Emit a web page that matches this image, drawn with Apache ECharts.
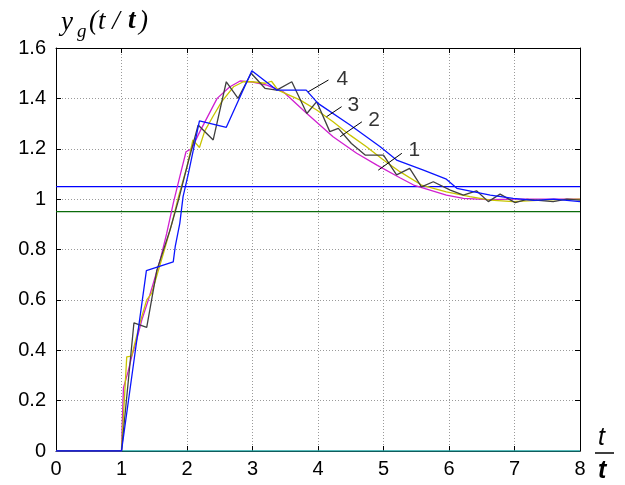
<!DOCTYPE html>
<html>
<head>
<meta charset="UTF-8">
<script src="https://cdn.jsdelivr.net/npm/echarts@6/dist/echarts.min.js"></script>
<style>
  html, body { margin: 0; padding: 0; background: #fff; }
  #chart { width: 625px; height: 485px; }
</style>
</head>
<body>
<div id="chart"></div>
<script>
// curve 1 (magenta, continuous)
const t1 = [0, 1, 1.01, 1.03, 1.10, 1.155, 1.23, 1.31, 1.41, 1.59, 1.69, 1.79, 1.89, 1.985, 2.07, 2.2, 2.46, 2.65, 2.81, 3.0, 3.22, 3.47, 3.83, 4.23, 4.59, 4.9, 5.25, 5.46, 5.96, 6.22, 6.6, 7, 8];
const y1 = [0, 0, 0.10, 0.25, 0.315, 0.374, 0.44, 0.52, 0.60, 0.758, 0.864, 0.983, 1.089, 1.188, 1.20, 1.27, 1.40, 1.445, 1.469, 1.465, 1.453, 1.426, 1.34, 1.248, 1.182, 1.135, 1.085, 1.056, 1.016, 1.003, 0.998, 1.0, 1.0];
// curve 2 (yellow)
const t2 = [0, 1, 1.08, 1.155, 1.28, 1.385, 1.46, 1.64, 1.77, 1.87, 2.0, 2.09, 2.19, 2.27, 2.40, 2.53, 2.71, 2.86, 2.99, 3.19, 3.29, 3.39, 3.73, 3.98, 4.23, 4.49, 4.74, 5.0, 5.25, 5.58, 5.96, 6.32, 6.63, 6.98, 7.5, 8];
const y2 = [0, 0, 0.374, 0.377, 0.507, 0.60, 0.626, 0.785, 0.904, 1.01, 1.129, 1.235, 1.205, 1.27, 1.33, 1.387, 1.446, 1.466, 1.466, 1.46, 1.468, 1.433, 1.393, 1.354, 1.307, 1.254, 1.208, 1.155, 1.109, 1.056, 1.029, 1.01, 0.996, 0.99, 0.997, 1.0];
// curve 3 (dark grey)
const t3 = [0, 1, 1.19, 1.385, 1.54, 1.74, 1.87, 2.0, 2.17, 2.40, 2.60, 2.78, 2.98, 3.19, 3.37, 3.60, 3.83, 3.98, 4.18, 4.31, 4.51, 4.72, 5.0, 5.2, 5.40, 5.58, 5.76, 6.02, 6.22, 6.42, 6.60, 6.78, 7.01, 7.19, 7.59, 7.8, 8];
const y3 = [0, 0, 0.509, 0.491, 0.718, 0.877, 0.996, 1.129, 1.294, 1.235, 1.466, 1.40, 1.50, 1.44, 1.433, 1.466, 1.34, 1.387, 1.268, 1.281, 1.221, 1.175, 1.175, 1.096, 1.122, 1.049, 1.069, 1.036, 1.016, 1.033, 0.99, 1.02, 0.986, 0.999, 0.99, 1.0, 0.996];
// curve 4 (blue)
const t4 = [0, 1, 1.38, 1.79, 1.82, 1.89, 1.94, 2.02, 2.19, 2.60, 2.99, 3.37, 3.82, 4.0, 4.49, 4.95, 5.2, 5.61, 5.96, 6.12, 6.63, 6.98, 7.3, 7.6, 8];
const y4 = [0, 0, 0.716, 0.751, 0.811, 0.904, 1.01, 1.10, 1.311, 1.285, 1.51, 1.433, 1.433, 1.38, 1.294, 1.208, 1.155, 1.115, 1.079, 1.043, 1.016, 1.003, 0.995, 1.0, 0.99];

// tolerance band and baseline
const bandHigh = 1.05;
const bandLow = 0.95;
const tRange = [0, 8];

// curve labels with leader lines (data coords)
const curveNames = ['1', '2', '3', '4'];
const labelPos = [[5.47, 1.195], [4.855, 1.314], [4.54, 1.374], [4.37, 1.477]];
const leaderFrom = [[4.92, 1.115], [4.34, 1.248], [4.13, 1.327], [3.85, 1.426]];
const leaderTo = [[5.28, 1.182], [4.67, 1.307], [4.36, 1.367], [4.16, 1.473]];

const zip = (xs, ys) => xs.map((x, i) => [x, ys[i]]);

function curve(data, color) {
  return {
    type: 'line', data: data, symbol: 'none', animation: false, silent: true,
    lineStyle: { color: color, width: 1.3 }
  };
}

const sansFont = 'Liberation Sans';
const axisBlack = { color: '#000', width: 1 };

const series = [
  curve(tRange.map(t => [t, 0]), '#1fa5a5'),
  curve(tRange.map(t => [t, bandLow]), '#0b6b0b'),
  curve(tRange.map(t => [t, bandHigh]), '#0000ff'),
  curve(zip(t1, y1), '#d020d0'),
  curve(zip(t2, y2), '#c8c400'),
  curve(zip(t3, y3), '#404040'),
  curve(zip(t4, y4), '#0a14ff')
];
leaderFrom.forEach((p, i) => {
  series.push({
    type: 'line', data: [p, leaderTo[i]], symbol: 'none', animation: false, silent: true,
    lineStyle: { color: '#000', width: 1 }
  });
});
series.push({
  type: 'scatter', symbolSize: 0, animation: false, silent: true,
  data: labelPos.map((p, i) => ({ value: p, name: curveNames[i] })),
  label: {
    show: true, position: 'inside', formatter: p => p.name,
    fontFamily: sansFont, fontSize: 21, color: '#000'
  }
});

const chart = echarts.init(document.getElementById('chart'));
chart.setOption({
  backgroundColor: '#fff',
  animation: false,
  grid: { left: 56, right: 45, top: 48, bottom: 34, containLabel: false, outerBoundsMode: 'none' },
  xAxis: [
    {
      type: 'value', min: 0, max: 8, interval: 1, position: 'bottom',
      axisLine: { show: true, onZero: false, lineStyle: axisBlack },
      axisTick: { show: true, inside: true, length: 5, lineStyle: axisBlack },
      axisLabel: { fontFamily: sansFont, fontSize: 20, color: '#000', margin: 8 },
      splitLine: { show: true, lineStyle: { type: [1, 2], color: '#9a9a9a' } }
    },
    {
      type: 'value', min: 0, max: 8, interval: 1, position: 'top',
      axisLine: { show: true, onZero: false, lineStyle: axisBlack },
      axisTick: { show: true, inside: true, length: 5, lineStyle: axisBlack },
      axisLabel: { show: false }, splitLine: { show: false }
    }
  ],
  yAxis: [
    {
      type: 'value', min: 0, max: 1.6, interval: 0.2, position: 'left',
      axisLine: { show: true, onZero: false, lineStyle: axisBlack },
      axisTick: { show: true, inside: true, length: 5, lineStyle: axisBlack },
      axisLabel: { fontFamily: sansFont, fontSize: 20, color: '#000', margin: 10 },
      splitLine: { show: true, lineStyle: { type: [1, 2], color: '#9a9a9a' } }
    },
    {
      type: 'value', min: 0, max: 1.6, interval: 0.2, position: 'right',
      axisLine: { show: true, onZero: false, lineStyle: axisBlack },
      axisTick: { show: true, inside: true, length: 5, lineStyle: axisBlack },
      axisLabel: { show: false }, splitLine: { show: false }
    }
  ],
  series: series,
  graphic: [
    { type: 'text', left: 61, top: 9, style: { text: 'y', font: 'italic 27px "Liberation Serif"', fill: '#000' } },
    { type: 'text', left: 77, top: 22, style: { text: 'g', font: 'italic 19px "Liberation Serif"', fill: '#000' } },
    { type: 'text', left: 89, top: 8, style: { text: '(t / ', font: 'italic 27px "Liberation Serif"', fill: '#000' } },
    { type: 'text', left: 128, top: 8, style: { text: 't', font: 'bold italic 27px "Liberation Serif"', fill: '#000' } },
    { type: 'text', left: 139, top: 8, style: { text: ')', font: 'italic 27px "Liberation Serif"', fill: '#000' } },
    { type: 'text', left: 598, top: 426, style: { text: 't', font: 'italic 25px "Liberation Sans"', fill: '#000' } },
    { type: 'line', shape: { x1: 595, y1: 453, x2: 614, y2: 453 }, style: { stroke: '#000', lineWidth: 1.5 } },
    { type: 'text', left: 598, top: 459, style: { text: 't', font: 'bold italic 25px "Liberation Sans"', fill: '#000' } }
  ]
});
</script>
</body>
</html>
